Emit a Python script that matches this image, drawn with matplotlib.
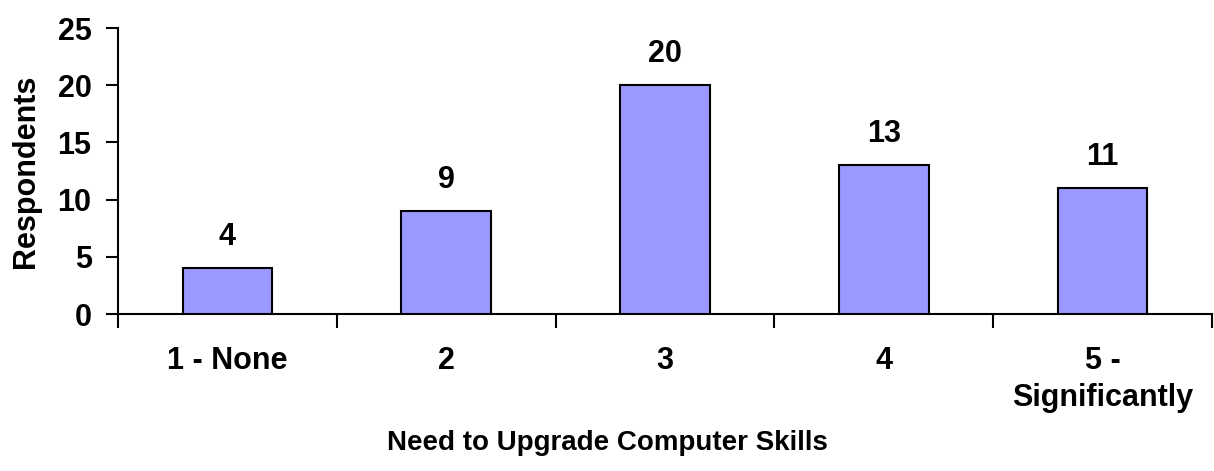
import numpy as np
import matplotlib.pyplot as plt

plt.rcParams['font.family'] = ['Liberation Sans', 'DejaVu Sans']
plt.rcParams['font.weight'] = 'bold'

categories = ['1 - None', '2', '3', '4', '5 -\nSignificantly']
respondents = [4, 9, 20, 13, 11]
yticks = [0, 5, 10, 15, 20, 25]

fig = plt.figure(figsize=(12.14, 4.71), dpi=100)
ax = fig.add_axes([118/1214, 1 - 314/471, 1094/1214, 286/471])

x = np.arange(len(categories))
ax.bar(x, respondents, width=0.41, color='#9999FF', edgecolor='black', linewidth=1.5, zorder=3)

for xi, v in zip(x, respondents):
    ax.annotate(str(v), (xi, v), xytext=(0, 11.5), textcoords='offset points',
                ha='center', va='bottom', fontsize=22, fontweight='bold')

ax.set_xlim(-0.5, len(categories) - 0.5)
ax.set_ylim(0, 25)
ax.set_yticks(yticks)
ax.set_yticklabels([str(t) for t in yticks], fontsize=22, fontweight='bold')

# labels sit at category centres, tick marks at the boundaries
ax.set_xticks(x)
ax.set_xticklabels(categories, fontsize=22, fontweight='bold', linespacing=1.3, va='top')
ax.set_xticks(np.arange(-0.5, len(categories)), minor=True)
ax.tick_params(axis='x', which='major', length=0, pad=23)
ax.tick_params(axis='x', which='minor', length=10, width=1.5, direction='out')
ax.tick_params(axis='y', length=9, width=1.5, direction='out', pad=10)

for side in ['top', 'right']:
    ax.spines[side].set_visible(False)
ax.spines['left'].set_linewidth(1.5)
ax.spines['bottom'].set_linewidth(1.5)

fig.text(26/1214, 1 - 171/471, 'Respondents', rotation=90, ha='center', va='center',
         fontsize=22, fontweight='bold')
fig.text(0.5, 1 - 443/471, 'Need to Upgrade Computer Skills', ha='center', va='center',
         fontsize=20, fontweight='bold')

fig.savefig('out.png', dpi=100)
